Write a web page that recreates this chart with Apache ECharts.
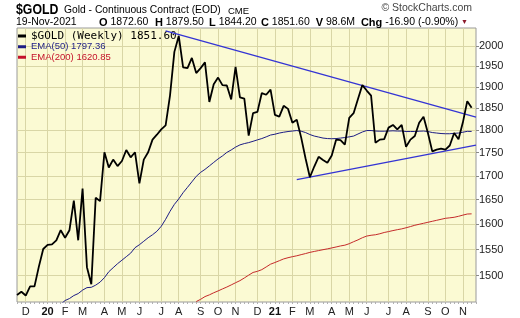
<!DOCTYPE html>
<html><head><meta charset="utf-8">
<script src="https://cdn.jsdelivr.net/npm/echarts@6/dist/echarts.min.js"></script>
<style>html,body{margin:0;padding:0;background:#fff}#c{width:520px;height:318px}</style>
</head><body><div id="c"></div>
<script>
// weekly bars, labelled by first trading day of each week
const weeks = [
'2019-11-18','2019-11-25','2019-12-02','2019-12-09','2019-12-16','2019-12-23','2019-12-30',
'2020-01-06','2020-01-13','2020-01-21','2020-01-27','2020-02-03','2020-02-10','2020-02-18','2020-02-24',
'2020-03-02','2020-03-09','2020-03-16','2020-03-23','2020-03-30','2020-04-06','2020-04-13','2020-04-20','2020-04-27',
'2020-05-04','2020-05-11','2020-05-18','2020-05-26','2020-06-01','2020-06-08','2020-06-15','2020-06-22','2020-06-29',
'2020-07-06','2020-07-13','2020-07-20','2020-07-27','2020-08-03','2020-08-10','2020-08-17','2020-08-24','2020-08-31',
'2020-09-08','2020-09-14','2020-09-21','2020-09-28','2020-10-05','2020-10-12','2020-10-19','2020-10-26',
'2020-11-02','2020-11-09','2020-11-16','2020-11-23','2020-11-30','2020-12-07','2020-12-14','2020-12-21','2020-12-28',
'2021-01-04','2021-01-11','2021-01-19','2021-01-25','2021-02-01','2021-02-08','2021-02-16','2021-02-22',
'2021-03-01','2021-03-08','2021-03-15','2021-03-22','2021-03-29','2021-04-05','2021-04-12','2021-04-19','2021-04-26',
'2021-05-03','2021-05-10','2021-05-17','2021-05-24','2021-06-01','2021-06-07','2021-06-14','2021-06-21','2021-06-28',
'2021-07-06','2021-07-12','2021-07-19','2021-07-26','2021-08-02','2021-08-09','2021-08-16','2021-08-23','2021-08-30',
'2021-09-07','2021-09-13','2021-09-20','2021-09-27','2021-10-04','2021-10-11','2021-10-18','2021-10-25',
'2021-11-01','2021-11-08','2021-11-15','2021-11-22'
];
const price = [
1464,1470,1463,1480,1480,1517,1551,1559,1560,1568,1588,1573,1588,1648,1568,1673,1516,1484,1654,1647,
1751,1718,1735,1721,1732,1756,1740,1751,1684,1735,1751,1779,1790,1802,1811,1880,1986,2026,1948,1946,
1971,1934,1946,1960,1865,1907,1923,1905,1904,1871,1949,1876,1873,1788,1839,1842,1886,1882,1894,1835,
1831,1856,1849,1817,1824,1784,1738,1697,1720,1741,1734,1728,1744,1779,1778,1768,1828,1839,1872,1905,
1892,1880,1772,1779,1780,1806,1812,1802,1812,1763,1779,1787,1817,1831,1794,1753,1757,1759,1757,1766,
1794,1780,1818,1867,1851.6
];
const ema50 = [
null,null,null,null,null,null,null,null,null,null,1447,1453.9,1457.5,1463,1466.6,1473,1477.6,1478.2,1482.2,1487.8,
1496.2,1507.4,1515,1522.6,1529.3,1536.1,1542.9,1553.5,1559.3,1566.1,1573,1578.9,1585.8,1595.8,1609.8,1626,1640.2,1651.5,1664.5,1675.7,
1687.2,1698.9,1707.4,1713.8,1721.3,1728.9,1736.5,1743,1750.7,1756.1,1762.4,1767.3,1770.2,1772.4,1775.3,1778.5,1781.4,1785.2,1789.3,1791.1,
1793.8,1795.6,1797.2,1798.3,1799.4,1797.9,1794.9,1790.4,1787,1784.8,1782.5,1781.4,1781,1781.4,1782.5,1783.7,1785.2,1787,1791.6,1796.1,
1799.4,1799.4,1798.3,1797.9,1797.9,1798.3,1798.8,1798.3,1798.3,1797.2,1797.2,1797.2,1797.9,1798.3,1797.2,1794.9,1793.8,1792.7,1792.2,1792.2,
1793.1,1793.8,1795.6,1797.6,1797.36
];
const ema200 = [
null,null,null,null,null,null,null,null,null,null,null,null,null,null,null,null,null,null,null,null,
null,null,null,null,null,null,null,null,null,null,null,null,null,null,null,null,null,null,null,null,
null,1452,1456.1,1461.1,1464.2,1468.1,1471.5,1475.2,1478.7,1482.6,1486.7,1490.6,1495.6,1500.9,1506,1508.1,1511.3,1516.4,1521.7,1524.9,
1528.3,1531.8,1534.1,1536.1,1537.8,1540,1542.1,1544.4,1546.2,1547.9,1549.6,1551.2,1553,1554.9,1556.9,1558.4,1561.3,1565.2,1568.8,1573,
1576.3,1577.9,1578.9,1580.9,1583.4,1585.2,1587.2,1589,1590.6,1592.8,1595.2,1597.8,1599.8,1601.8,1603.8,1605.8,1607.8,1609.8,1611.8,1612.8,
1613.9,1615.9,1618.3,1620.5,1620.85
];
const upperTrend = [['2020-07-13', 2039], ['2021-11-22', 1830]];
const lowerTrend = [['2021-02-08', 1692], ['2021-11-22', 1767]];
const yTicks = [1500,1550,1600,1650,1700,1750,1800,1850,1900,1950,2000];
const monthLetters = ['J','F','M','A','M','J','J','A','S','O','N','D'];
const quote = {date:'19-Nov-2021', O:'1872.60', H:'1879.50', L:'1844.20', C:'1851.60', V:'98.6M', Chg:'-16.90 (-0.90%)'};

const gridColor = '#d9d6a6';
const isMonthStart = (i) => i > 0 && weeks[i].slice(5,7) !== weeks[i-1].slice(5,7);
const SANS = 'Liberation Sans, Arial, sans-serif';

const chart = echarts.init(document.getElementById('c'), null, {renderer:'canvas'});
const rich = {
  b:{fontWeight:'bold', fontSize:11, fontFamily:SANS, fill:'#000', color:'#000'},
  n:{fontSize:10.5, fontFamily:SANS, fill:'#000', color:'#000'},
  t:{fontSize:7, fontFamily:SANS, fill:'#8b1a2a', color:'#8b1a2a'}
};
function txt(text, x, y, font, fill, extra, align) {
  return Object.assign({type:'text', x:x, y:y, silent:true,
    style:{text:text, font:font, fill:fill||'#000', verticalAlign:'middle', align:align||'left', rich:rich}}, extra||{});
}
chart.setOption({
  animation:false,
  backgroundColor:'#fff',
  grid:{left:17, right:44, top:28, bottom:16, show:true, backgroundColor:'#fbfad3', borderColor:'#9a9a9a', borderWidth:1, outerBoundsMode:'none', containLabel:false},
  xAxis:{type:'category', data:weeks, boundaryGap:false,
    axisLine:{show:false},
    axisTick:{show:true, interval:0, length:2, lineStyle:{color:'#b0b0b0'}},
    axisLabel:{interval:(i)=>isMonthStart(i), margin:4, fontSize:11, fontFamily:SANS, color:'#222',
      formatter:(v)=>{const m=+v.slice(5,7); return m===1 ? '{y|'+v.slice(2,4)+'}' : monthLetters[m-1];},
      rich:{y:{fontWeight:'bold', fontSize:11, fontFamily:SANS, color:'#111'}}},
    splitLine:{show:true, interval:(i)=>isMonthStart(i), lineStyle:{color:gridColor, width:1}}
  },
  yAxis:{type:'log', logBase:10, position:'right', min:1451.2, max:2046.4,
    axisLine:{show:false},
    axisTick:{show:true, length:3, customValues:yTicks, lineStyle:{color:'#888'}},
    axisLabel:{customValues:yTicks, margin:3, fontSize:11, fontFamily:SANS, color:'#222', formatter:(v)=>String(Math.round(v))},
    splitLine:{show:true, lineStyle:{color:gridColor, width:1}},
    minorTick:{show:false}, minorSplitLine:{show:false}
  },
  legend:{orient:'vertical', left:18, top:30.5, itemGap:0, itemWidth:8, itemHeight:3, icon:'rect', selectedMode:false,
    padding:0,
    data:[
      {name:'$GOLD (Weekly)', textStyle:{fontFamily:'DejaVu Sans Mono, monospace', fontSize:11, color:'#000', lineHeight:10.5}},
      {name:'EMA(50)', textStyle:{fontFamily:SANS, fontSize:9.5, color:'#1c1c84', lineHeight:10.5}},
      {name:'EMA(200)', textStyle:{fontFamily:SANS, fontSize:9.5, color:'#c4122a', lineHeight:10.5}}
    ],
    formatter:(name)=>{
      const map={'$GOLD (Weekly)':price,'EMA(50)':ema50,'EMA(200)':ema200};
      const a=map[name]; return name+' '+a[a.length-1].toFixed(2);
    }
  },
  series:[
    {name:'EMA(200)', type:'line', data:ema200, showSymbol:false, symbol:'none', lineStyle:{color:'#c42a2a', width:1}, itemStyle:{color:'#c4122a'}, z:2},
    {name:'EMA(50)', type:'line', data:ema50, showSymbol:false, symbol:'none', lineStyle:{color:'#1c1c84', width:1}, itemStyle:{color:'#1c1c84'}, z:3},
    {name:'upper', type:'line', data:upperTrend, showSymbol:false, symbol:'none', lineStyle:{color:'#3434d4', width:1.3}, z:4},
    {name:'lower', type:'line', data:lowerTrend, showSymbol:false, symbol:'none', lineStyle:{color:'#3434d4', width:1.3}, z:4},
    {name:'$GOLD (Weekly)', type:'line', data:price, showSymbol:false, symbol:'none', lineStyle:{color:'#000', width:1.8}, itemStyle:{color:'#000'}, z:5}
  ],
  graphic:[
    txt('$GOLD', 16, 10, 'bold 15px '+SANS, '#000', {scaleX:0.82, scaleY:1}),
    txt('Gold - Continuous Contract (EOD)', 64, 10.5, '10.3px '+SANS, '#000'),
    txt('CME', 228, 11, '9.5px '+SANS, '#000'),
    txt('\u00A9 StockCharts.com', 472, 8, '10.5px '+SANS, '#444', null, 'right'),
    txt(quote.date, 16, 22.5, '10.5px '+SANS, '#000'),
    txt('{b|O} {n|'+quote.O+'}', 99, 22.5, '10.5px '+SANS, '#000'),
    txt('{b|H} {n|'+quote.H+'}', 155, 22.5, '10.5px '+SANS, '#000'),
    txt('{b|L} {n|'+quote.L+'}', 209, 22.5, '10.5px '+SANS, '#000'),
    txt('{b|C} {n|'+quote.C+'}  {b|V} {n|'+quote.V+'}  {b|Chg} {n|'+quote.Chg+'} {t|\u25BC}', 468, 22.5, '10.5px '+SANS, '#000', null, 'right')
  ]
});
</script></body></html>
